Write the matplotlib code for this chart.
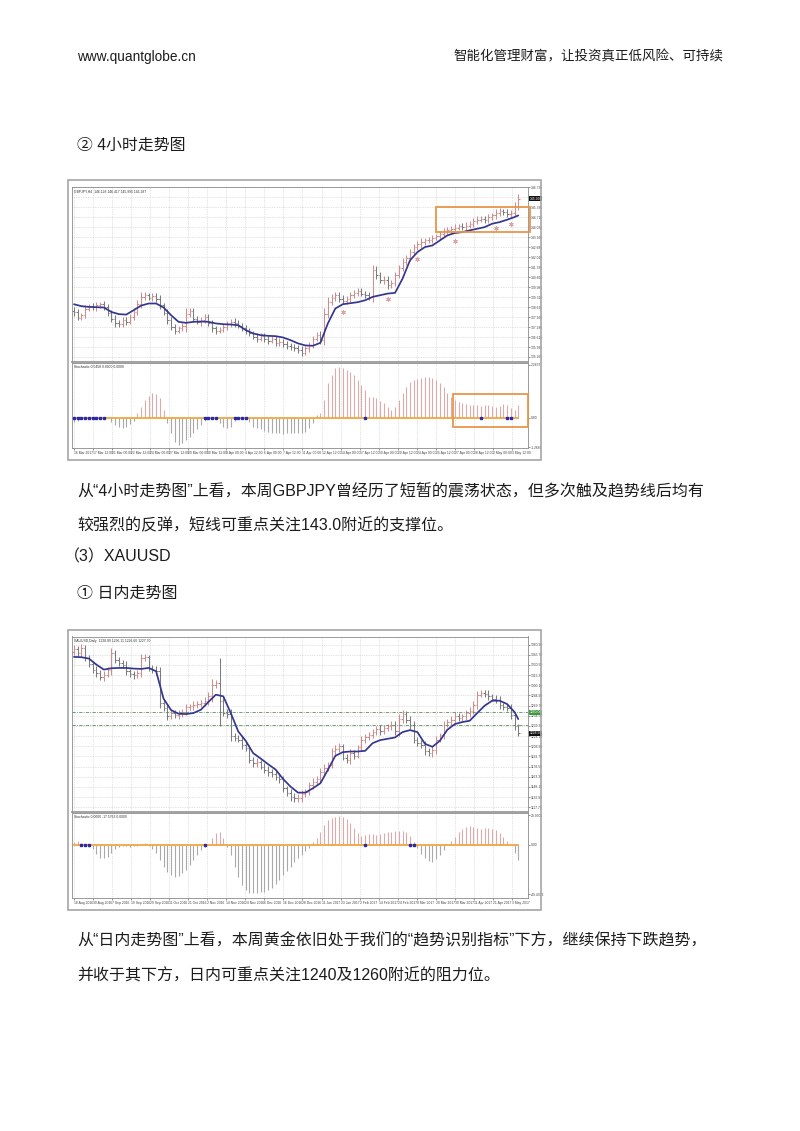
import numpy as np
import matplotlib.pyplot as plt
from matplotlib.patches import Rectangle
from matplotlib.transforms import blended_transform_factory

plt.rcParams['font.family'] = ['Liberation Sans', 'Noto Sans CJK SC', 'DejaVu Sans']

W, H = 800, 1131

# ---------------- GBPJPY, H4 ----------------
gbp_open0 = 138.40
gbp_close = [
    138.31, 137.93, 138.09, 138.54, 138.70, 138.65, 138.76, 138.83, 138.65, 138.25,
    137.86, 137.57, 137.48, 137.75, 137.64, 137.98, 138.31, 138.88, 139.33, 139.44,
    139.28, 139.37, 139.21, 138.76, 138.25, 137.75, 137.30, 137.03, 137.19, 137.35,
    138.20, 138.38, 137.86, 137.64, 137.75, 137.98, 137.57, 137.19, 137.03, 137.12,
    137.30, 137.48, 137.64, 137.57, 137.39, 137.19, 137.03, 136.85, 136.63, 136.51,
    136.67, 136.45, 136.36, 136.49, 136.22, 136.29, 136.13, 135.99, 135.95, 135.84,
    135.73, 135.55, 135.84, 136.06, 136.51, 136.74, 136.40, 138.20, 138.99, 139.28,
    139.44, 139.21, 139.06, 139.21, 139.44, 139.60, 139.73, 139.55, 139.44, 139.33,
    141.17, 140.79, 140.45, 140.50, 140.11, 140.27, 140.79, 141.31, 141.69, 141.98,
    142.36, 142.70, 142.88, 143.04, 143.15, 143.20, 143.33, 143.42, 143.60, 143.78,
    143.87, 143.94, 144.01, 144.10, 144.05, 144.16, 144.28, 144.46, 144.55, 144.61,
    144.55, 144.73, 144.84, 145.00, 145.13, 145.06, 144.95, 145.04, 145.51, 145.96,
]
gbp_wick = [
    0.25, 0.20, 0.18, 0.22, 0.15, 0.20, 0.25, 0.18, 0.20, 0.22,
    0.20, 0.25, 0.18, 0.22, 0.20, 0.18, 0.25, 0.22, 0.30, 0.20,
    0.18, 0.25, 0.20, 0.22, 0.18, 0.25, 0.20, 0.22, 0.18, 0.20,
    0.40, 0.22, 0.20, 0.18, 0.25, 0.20, 0.18, 0.22, 0.20, 0.18,
    0.20, 0.22, 0.18, 0.25, 0.20, 0.18, 0.22, 0.20, 0.18, 0.22,
    0.18, 0.20, 0.22, 0.18, 0.20, 0.25, 0.18, 0.20, 0.22, 0.18,
    0.20, 0.25, 0.18, 0.22, 0.20, 0.18, 0.25, 0.35, 0.30, 0.22,
    0.25, 0.20, 0.22, 0.18, 0.25, 0.20, 0.22, 0.18, 0.20, 0.22,
    0.35, 0.25, 0.20, 0.22, 0.25, 0.18, 0.22, 0.20, 0.25, 0.20,
    0.22, 0.18, 0.20, 0.25, 0.18, 0.20, 0.22, 0.18, 0.20, 0.22,
    0.18, 0.20, 0.22, 0.18, 0.20, 0.25, 0.18, 0.20, 0.22, 0.18,
    0.20, 0.22, 0.18, 0.25, 0.20, 0.18, 0.22, 0.20, 0.25, 0.30,
]
# trend line read every second bar
trend_idx = [0, 2, 4, 6, 8, 10, 12, 14, 16, 18, 20, 22, 24, 26, 28, 30, 32, 34, 36, 38,
             40, 42, 44, 46, 48, 50, 52, 54, 56, 58, 60, 62, 64, 66, 68, 70, 72, 74, 76, 78,
             80, 82, 84, 86, 88, 90, 92, 94, 96, 98, 100, 102, 104, 106, 108, 110, 112,
             114, 116, 118, 119]
gbp_trend = [138.83, 138.70, 138.65, 138.63, 138.61, 138.31, 138.16, 138.13, 138.43, 138.74,
             138.88, 138.88, 138.61, 138.09, 137.64, 137.57, 137.64, 137.66, 137.64, 137.53,
             137.48, 137.46, 137.41, 137.08, 136.85, 136.74, 136.69, 136.67, 136.58, 136.40,
             136.18, 136.04, 136.02, 136.22, 137.53, 138.54, 138.83, 138.90, 138.97, 139.10,
             139.33, 139.44, 139.55, 139.60, 140.56, 141.80, 142.36, 142.70, 142.81, 143.15,
             143.49, 143.65, 143.71, 143.83, 143.94, 144.05, 144.28, 144.39, 144.55, 144.73,
             144.84]
gbp_hist = [
    -0.17, -0.13, -0.03, 0.00, 0.00, 0.01, 0.00, 0.00, 0.00, -0.03,
    -0.17, -0.31, -0.41, -0.46, -0.39, -0.27, -0.13, 0.19, 0.47, 0.76,
    0.93, 1.04, 1.01, 0.83, 0.33, -0.24, -0.67, -1.03, -1.17, -1.10,
    -0.96, -0.81, -0.67, -0.50, -0.31, -0.13, -0.03, 0.00, 0.00, -0.24,
    -0.39, -0.46, -0.39, -0.13, -0.03, 0.00, 0.00, -0.17, -0.39, -0.46,
    -0.50, -0.56, -0.61, -0.67, -0.67, -0.67, -0.70, -0.67, -0.64, -0.67,
    -0.67, -0.64, -0.60, -0.46, -0.24, 0.11, 0.19, 0.76, 1.47, 1.83,
    2.11, 2.16, 2.11, 2.04, 1.97, 1.83, 1.61, 1.40, 1.19, 0.90,
    0.87, 0.83, 0.73, 0.61, 0.47, 0.33, 0.47, 0.76, 1.04, 1.33,
    1.54, 1.61, 1.64, 1.69, 1.76, 1.73, 1.69, 1.61, 1.47, 1.33,
    1.04, 0.90, 0.76, 0.69, 0.61, 0.59, 0.54, 0.54, 0.53, 0.50,
    0.53, 0.54, 0.50, 0.47, 0.50, 0.59, 0.54, 0.40, 0.33, 0.54,
]
gbp_blue = [0, 1, 2, 3, 4, 5, 6, 7, 8, 35, 36, 37, 38, 43, 44, 45, 46, 78, 109, 116, 117]
gbp_mark_idx = [72, 84, 92, 102, 113, 117]
gbp_mark = [138.31, 139.21, 141.87, 143.11, 143.98, 144.23]
gbp_dates = ["16 Mar 2017", "17 Mar 12:00", "21 Mar 00:00", "22 Mar 12:00", "24 Mar 00:00",
             "27 Mar 12:00", "29 Mar 00:00", "30 Mar 12:00", "3 Apr 00:00", "4 Apr 12:00",
             "6 Apr 00:00", "7 Apr 12:00", "11 Apr 00:00", "12 Apr 12:00", "14 Apr 00:00",
             "17 Apr 12:00", "19 Apr 00:00", "20 Apr 12:00", "24 Apr 00:00", "25 Apr 12:00",
             "27 Apr 00:00", "28 Apr 12:00", "2 May 00:00", "3 May 12:00"]

# ---------------- XAUUSD, Daily ----------------
xau_open0 = 1350.0
xau_close = [
    1355.0, 1348.5, 1356.0, 1341.0, 1332.0, 1323.5, 1318.5, 1312.0, 1316.0, 1323.5,
    1348.5, 1338.5, 1333.5, 1331.0, 1321.0, 1317.0, 1315.0, 1318.5, 1341.0, 1342.0,
    1326.0, 1323.5, 1321.0, 1273.5, 1266.0, 1253.5, 1258.5, 1256.0, 1257.0, 1260.0,
    1267.0, 1268.5, 1271.0, 1272.0, 1273.5, 1277.0, 1283.5, 1301.0, 1303.5, 1276.0,
    1258.5, 1257.0, 1223.5, 1221.0, 1218.5, 1211.0, 1206.0, 1188.5, 1183.5, 1185.0,
    1178.5, 1173.5, 1171.0, 1167.0, 1163.5, 1160.0, 1146.0, 1138.5, 1133.5, 1131.0,
    1132.0, 1137.0, 1141.0, 1151.0, 1156.0, 1160.0, 1171.0, 1176.0, 1181.0, 1201.0,
    1205.0, 1208.5, 1192.0, 1188.5, 1198.5, 1195.0, 1207.0, 1218.5, 1222.0, 1226.0,
    1230.0, 1235.0, 1232.0, 1236.0, 1238.5, 1241.0, 1231.0, 1250.0, 1257.0, 1248.5,
    1241.0, 1218.5, 1213.5, 1211.0, 1202.0, 1198.5, 1203.5, 1218.5, 1225.0, 1241.0,
    1245.0, 1248.5, 1253.5, 1251.0, 1253.5, 1258.5, 1262.0, 1271.0, 1286.0, 1288.5,
    1287.0, 1283.5, 1280.0, 1278.5, 1270.0, 1267.0, 1266.0, 1255.0, 1238.5, 1228.5,
]
xau_wick = [
    5, 4, 6, 5, 4, 5, 6, 4, 5, 4,
    8, 5, 4, 5, 6, 4, 5, 4, 6, 5,
    4, 5, 6, 7, 5, 6, 4, 5, 6, 4,
    5, 4, 6, 5, 4, 5, 6, 8, 5, 37,
    5, 6, 7, 5, 4, 6, 5, 4, 5, 6,
    4, 5, 6, 4, 5, 6, 5, 4, 6, 5,
    5, 6, 4, 5, 6, 4, 5, 6, 4, 5,
    6, 5, 4, 5, 6, 5, 4, 6, 5, 4,
    5, 4, 6, 5, 4, 6, 5, 7, 6, 5,
    6, 5, 4, 5, 6, 4, 5, 6, 4, 5,
    4, 5, 6, 5, 4, 5, 6, 5, 6, 4,
    5, 6, 4, 5, 6, 4, 5, 6, 5, 4,
]
xau_trend = [1342.5, 1342.0, 1340.0, 1331.0, 1323.5, 1325.5, 1326.0, 1326.0, 1325.0, 1324.5,
             1326.0, 1321.0, 1280.0, 1263.0, 1257.5, 1257.0, 1258.5, 1263.5, 1275.0, 1286.0,
             1283.5, 1258.5, 1231.0, 1217.0, 1198.5, 1190.5, 1182.0, 1174.0, 1160.0, 1148.5,
             1139.5, 1139.5, 1146.0, 1153.5, 1173.5, 1194.5, 1200.0, 1201.0, 1201.0, 1202.0,
             1213.5, 1218.0, 1220.0, 1222.0, 1230.0, 1233.0, 1230.0, 1212.5, 1208.0, 1217.0,
             1233.5, 1242.0, 1245.0, 1247.0, 1258.5, 1269.5, 1277.0, 1277.0, 1272.0, 1260.0,
             1249.5]
xau_hist = [
    3.3, 4.0, 1.7, 0.0, -1.7, -4.0, -9.3, -12.7, -13.3, -11.7,
    -8.3, -4.0, -1.7, -0.7, -1.0, -1.7, -1.3, -0.7, 0.0, 1.7,
    -0.7, -4.0, -8.3, -15.0, -21.7, -26.7, -30.0, -31.7, -30.7, -28.3,
    -25.0, -20.0, -15.0, -10.0, -5.0, -1.7, 0.0, 6.7, 11.7, 12.7,
    7.3, -1.7, -10.0, -21.7, -31.7, -40.0, -45.0, -47.7, -48.3, -48.3,
    -47.3, -46.7, -45.0, -42.7, -39.3, -35.0, -30.0, -26.0, -21.7, -17.3,
    -13.3, -10.0, -6.0, -2.7, 2.7, 6.7, 12.7, 20.0, 25.0, 27.3,
    28.3, 29.0, 28.0, 26.0, 21.7, 16.7, 11.7, 9.3, 10.0, 10.7,
    10.7, 10.0, 11.3, 12.0, 12.7, 13.3, 14.0, 14.3, 14.0, 13.3,
    9.3, 3.3, -3.3, -9.3, -13.3, -16.0, -16.7, -14.0, -10.0, -5.0,
    0.0, 4.0, 8.3, 12.7, 16.0, 18.3, 19.0, 18.3, 16.7, 16.0,
    16.7, 17.0, 16.3, 15.0, 11.7, 8.3, 4.0, 0.0, -8.3, -15.0,
]
xau_blue = [2, 3, 4, 35, 78, 90, 91]
xau_levels = [1260.0, 1240.0]
xau_dates = ["18 Aug 2016", "30 Aug 2016", "7 Sep 2016", "19 Sep 2016", "29 Sep 2016",
             "11 Oct 2016", "21 Oct 2016", "2 Nov 2016", "14 Nov 2016", "24 Nov 2016",
             "6 Dec 2016", "16 Dec 2016", "28 Dec 2016", "11 Jan 2017", "23 Jan 2017",
             "2 Feb 2017", "14 Feb 2017", "24 Feb 2017", "8 Mar 2017", "20 Mar 2017",
             "30 Mar 2017", "11 Apr 2017", "21 Apr 2017", "3 May 2017"]

UP = '#cf8e8e'
DN = '#7c7c7c'
GRID = '#c9c9c9'
ORANGE = '#e8964a'
TXT = '#1c1c1c'

fig = plt.figure(figsize=(W / 100, H / 100), dpi=100)


def ax_px(x0, y0, x1, y1):
    return fig.add_axes([x0 / W, 1 - y1 / H, (x1 - x0) / W, (y1 - y0) / H])


def draw_chart(top, open0, closes, wick, trend, hist, blue, ylim_main, ylim_ind,
               price_ticks, fmt, ind_ticks, ind_labels, dates, title, ind_title, last_px):
    # picture frame
    fig.patches.append(Rectangle((68 / W, 1 - (top + 280) / H), 473 / W, 280 / H,
                                 transform=fig.transFigure, fill=False,
                                 edgecolor='#a5a5a5', lw=1.2))
    ax = ax_px(72.1, top + 6.5, 527.6, top + 182)
    ax2 = ax_px(72.1, top + 183, 527.6, top + 268)

    c = np.array(closes)
    o = np.r_[open0, c[:-1]]
    w = np.array(wick)
    x = np.arange(len(c))
    hi = np.maximum(o, c) + w
    lo = np.minimum(o, c) - w
    col = np.where(c >= o, UP, DN)
    ax.vlines(x, lo, hi, colors=col, lw=0.75)
    ax.hlines(o, x - 0.4, x, colors=col, lw=0.75)
    ax.hlines(c, x, x + 0.4, colors=col, lw=0.75)
    ax.plot(trend_idx, trend, color='#34368f', lw=1.25, zorder=4,
            solid_joinstyle='round', solid_capstyle='round')

    h = np.array(hist)
    hcol = np.where(h >= 0, '#dcaaaa', '#a9a9a9')
    ax2.vlines(x, 0, h, colors=hcol, lw=0.8)
    ax2.plot([x[0], x[-1]], [0, 0], color='#f2a640', lw=1.3, zorder=3)
    ax2.plot(blue, np.zeros(len(blue)), 's', ms=1.5, color='#2a2aa6', zorder=4)

    date_pos = np.arange(len(dates)) * 5.1
    for a in (ax, ax2):
        a.set_xlim(-0.5, 121.5)
        a.set_xticks(date_pos)
        a.grid(True, axis='x', color=GRID, lw=0.5, linestyle=(0, (1, 1.5)))
        a.yaxis.tick_right()
        a.tick_params(axis='both', length=1.2, width=0.4, labelsize=2.4,
                      pad=1, colors='#444444')
        for s in a.spines.values():
            s.set_color('#8a8a8a')
            s.set_linewidth(0.6)
    ax.spines['bottom'].set_linewidth(1.3)
    ax.spines['bottom'].set_color('#9a9a9a')
    ax.set_xticklabels([])
    ax.tick_params(axis='x', length=0)
    ax.set_ylim(*ylim_main)
    ax.set_yticks(price_ticks)
    ax.set_yticklabels([fmt % v for v in price_ticks])
    ax.grid(True, axis='y', color=GRID, lw=0.5, linestyle=(0, (1, 1.5)))
    ax2.set_ylim(*ylim_ind)
    ax2.set_yticks(ind_ticks)
    ax2.set_yticklabels(ind_labels)
    ax2.set_xticklabels(dates, ha='left')

    ax.text(0.004, 0.985, title, transform=ax.transAxes, fontsize=2.4,
            va='top', color='#333333')
    ax2.text(0.004, 0.975, ind_title, transform=ax2.transAxes, fontsize=2.4,
             va='top', color='#333333')
    tr = blended_transform_factory(ax.transAxes, ax.transData)
    ax.text(1.004, last_px, fmt % last_px, transform=tr, fontsize=2.4, va='center',
            color='white', bbox=dict(boxstyle='square,pad=0.15', fc='#111111', ec='none'))
    return ax, ax2


# chart 1
ax, ax2 = draw_chart(180, gbp_open0, gbp_close, gbp_wick, gbp_trend, gbp_hist, gbp_blue,
                     (134.92, 146.80), (-1.30, 2.34),
                     np.arange(135.26, 146.8, 0.675), '%.3f',
                     [2.2637, 0.0, -1.2687], ['2.2637', '0.00', '-1.2687'],
                     gbp_dates, 'GBPJPY,H4  146.128 146.417 145.995 146.287',
                     'Stochastic 0.5458 0.0000 0.0000', gbp_close[-1])
ax.plot(gbp_mark_idx, gbp_mark, marker=(6, 2, 0), ls='none', ms=3.2,
        mew=0.6, color='#e0a2a2', zorder=5)
ax.add_patch(Rectangle((97, 143.69), 25.1, 1.69, fill=False, ec=ORANGE, lw=1.3,
                       zorder=6, clip_on=False))
ax2.add_patch(Rectangle((101.5, -0.40), 20.0, 1.41, fill=False, ec=ORANGE, lw=1.3,
                        zorder=6, clip_on=False))

# chart 2
bx, bx2 = draw_chart(630, xau_open0, xau_close, xau_wick, xau_trend, xau_hist, xau_blue,
                     (1110.5, 1373.0), (-53.0, 32.0),
                     np.arange(1117.7, 1373.0, 15.2), '%.2f',
                     [29.9502, 0.0, -49.4313], ['29.9502', '0.00', '-49.4313'],
                     xau_dates, 'XAUUSD,Daily  1228.89 1236.11 1226.60 1227.70',
                     'Stochastic 0.0000 -17.5763 0.0000', xau_close[-1])
for lv in xau_levels:
    bx.axhline(lv, color='#5c8f5c', lw=0.6, linestyle=(0, (4, 1.5, 1, 1.5)), zorder=2)
tr = blended_transform_factory(bx.transAxes, bx.transData)
bx.text(1.004, xau_levels[0], '%.2f' % xau_levels[0], transform=tr, fontsize=2.4,
        va='center', color='white',
        bbox=dict(boxstyle='square,pad=0.15', fc='#3f9a3f', ec='none'))


# page text
def put(x, y, s, size, ha='left'):
    fig.text(x / W, 1 - y / H, s, fontsize=size, ha=ha, va='center', color=TXT)


put(77, 57, 'www.quantglobe.cn', 9.8)
put(723, 57, '智能化管理财富，让投资真正低风险、可持续', 9.7, ha='right')
put(77, 145, '② 4小时走势图', 11.4)
put(77, 490, '从“4小时走势图”上看，本周GBPJPY曾经历了短暂的震荡状态，但多次触及趋势线后均有', 11.5)
put(77, 526, '较强烈的反弹，短线可重点关注143.0附近的支撑位。', 11.5)
put(64, 557, '（3）XAUUSD', 11.5)
put(77, 593, '① 日内走势图', 11.5)
put(77, 941, '从“日内走势图”上看，本周黄金依旧处于我们的“趋势识别指标”下方，继续保持下跌趋势，', 11.5)
put(77, 976, '并收于其下方，日内可重点关注1240及1260附近的阻力位。', 11.5)

fig.savefig('out.png', dpi=100, facecolor='white')
plt.close(fig)
